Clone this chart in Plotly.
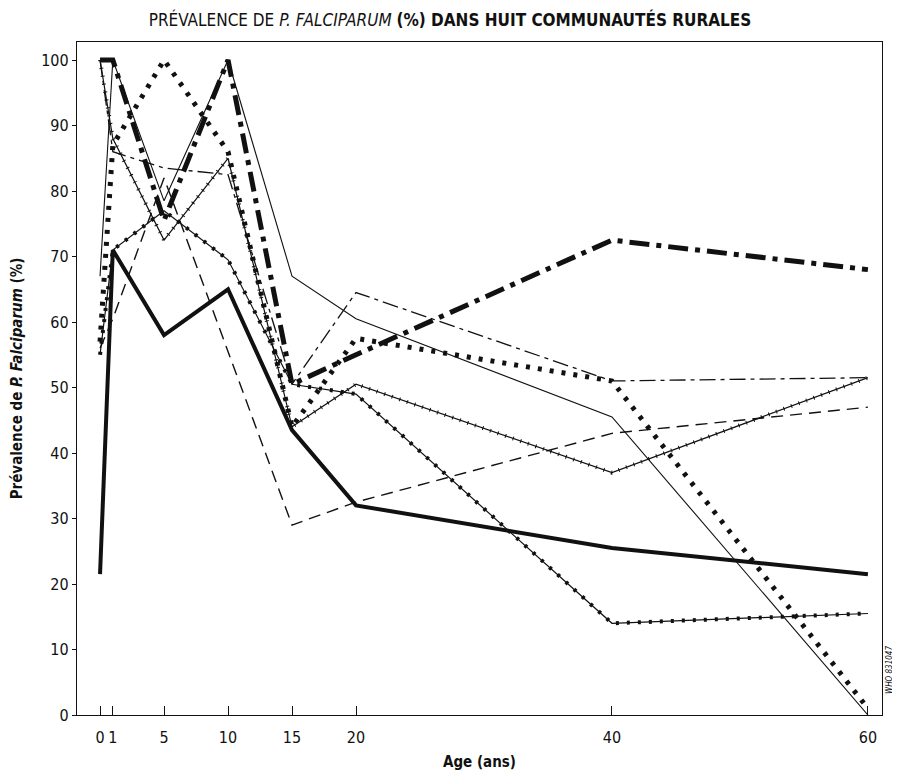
import plotly.graph_objects as go

# ---- data ----
AGES = [0, 1, 5, 10, 15, 20, 40, 60]
AGE_LABELS = ["0", "1", "5", "10", "15", "20", "40", "60"]

S_THICK_SOLID = [21.5, 71, 58, 65, 43.5, 32, 25.5, 21.5]
S_THICK_DASHDOT = [100, 100, 75.5, 100, 50.5, 55, 72.5, 68]
S_THICK_DOTTED = [57, 87, 100, 86, 44, 57.5, 51, 1]
S_THIN_SOLID = [67, 100, 78.5, 100, 67, 60.5, 45.5, 0]
S_DASHED = [56, 60.5, 82, 55.5, 29, 32.5, 43, 47]
S_THIN_DASHDOT = [100, 86, 83.5, 82.5, 50.5, 64.5, 51, 51.5]
S_TICKED = [100, 88, 72.5, 85, 44, 50.5, 37, 51.5]
S_BEADED = [55, 71, 77, 69.5, 50.5, 49, 14, 15.5]

Y_TICKS = [0, 10, 20, 30, 40, 50, 60, 70, 80, 90, 100]

INK = "#111111"
FONT = "Liberation Sans Narrow, DejaVu Sans Condensed, Liberation Sans, sans-serif"

fig = go.Figure()


def add(y, width, dash="solid", name=""):
    fig.add_trace(go.Scatter(
        x=AGES, y=y, mode="lines", name=name, showlegend=False,
        line=dict(color=INK, width=width, dash=dash),
        hoverinfo="x+y",
    ))


# thin dashed
add(S_DASHED, 1.4, "12px,7px", "C5")
# thin dash-dot
add(S_THIN_DASHDOT, 1.3, "16px,5px,4px,5px", "C6")
# thin solid
add(S_THIN_SOLID, 1.1, "solid", "C4")
# ticked line: thin base + perpendicular ticks
add(S_TICKED, 1.2, "solid", "C7")
add(S_TICKED, 4, "1px,7px", "C7 ticks")
# beaded line: thin base + beads
add(S_BEADED, 1.2, "solid", "C8")
add(S_BEADED, 4, "3px,8px", "C8 beads")
# thick solid
add(S_THICK_SOLID, 4, "solid", "C1")
# thick dotted
add(S_THICK_DOTTED, 5, "4px,8px", "C3")
# thick dash-dot
add(S_THICK_DASHDOT, 5, "20px,7px,5px,7px", "C2")

# The page body has an 8px default margin, so the figure is sized to fit the window.
fig.update_layout(
    width=892, height=764,
    paper_bgcolor="white", plot_bgcolor="white",
    margin=dict(l=69, r=18, t=34, b=57, autoexpand=False),
    font=dict(family=FONT, color=INK, size=15),
    title=dict(
        text="PRÉVALENCE DE <i>P. FALCIPARUM</i> <b>(%) DANS HUIT COMMUNAUTÉS RURALES</b>",
        x=0.4955, xanchor="center", y=0.9845, yanchor="middle",
        font=dict(family=FONT, size=17, color=INK),
    ),
    xaxis=dict(
        range=[-1.8, 61.1],
        tickmode="array", tickvals=AGES, ticktext=AGE_LABELS,
        ticks="inside", ticklen=9, tickwidth=1, tickcolor=INK,
        ticklabelstandoff=8,
        showline=True, linecolor=INK, linewidth=1.3, mirror=True,
        showgrid=False, zeroline=False, automargin=False,
        tickfont=dict(family=FONT, size=16, color=INK),
        title=dict(text="<b>Age (ans)</b>", font=dict(family=FONT, size=15, color=INK), standoff=10),
    ),
    yaxis=dict(
        range=[0, 102.75],
        tickmode="array", tickvals=Y_TICKS,
        ticks="outside", ticklen=4, tickwidth=1, tickcolor=INK,
        showline=True, linecolor=INK, linewidth=1.3, mirror=True,
        showgrid=False, zeroline=False, automargin=False,
        tickfont=dict(family=FONT, size=16, color=INK),
        title=dict(text="<b>Prévalence de <i>P. Falciparum</i> (%)</b>",
                   font=dict(family=FONT, size=15, color=INK), standoff=14),
    ),
)

fig.add_annotation(
    text="<i>WHO 831047</i>", textangle=-90,
    xref="paper", yref="paper", x=1.01, y=0.067,
    xanchor="center", yanchor="middle", showarrow=False,
    font=dict(family=FONT, size=8, color=INK),
)

fig.write_html("out.html")
